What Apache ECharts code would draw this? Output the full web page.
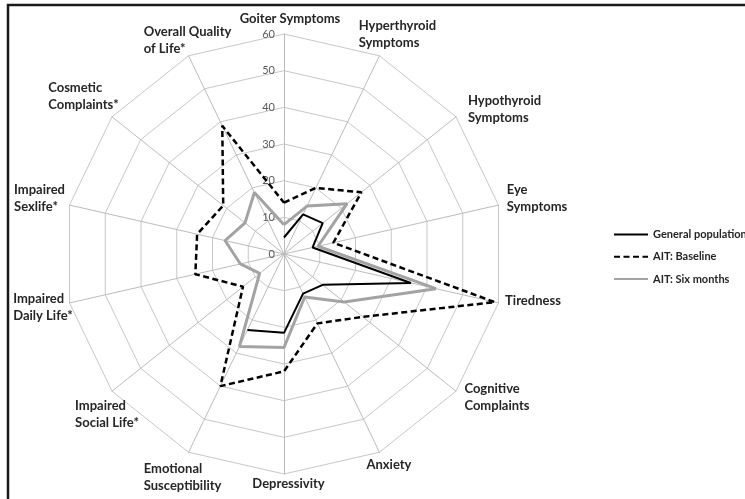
<!DOCTYPE html>
<html>
<head>
<meta charset="utf-8">
<script src="https://cdn.jsdelivr.net/npm/echarts@6/dist/echarts.min.js"></script>
<style>
html,body{margin:0;padding:0;background:#fff;}
#chart{width:745px;height:499px;}
</style>
</head>
<body>
<div id="chart"></div>
<script>
// ---- data ----
const categories = [
  'Goiter Symptoms', 'Hyperthyroid\nSymptoms', 'Hypothyroid\nSymptoms', 'Eye\nSymptoms',
  'Tiredness', 'Cognitive\nComplaints', 'Anxiety', 'Depressivity',
  'Emotional\nSusceptibility', 'Impaired\nSocial Life*', 'Impaired\nDaily Life*',
  'Impaired\nSexlife*', 'Cosmetic\nComplaints*', 'Overall Quality\nof Life*'
];
const seriesNames = ['General population', 'AIT: Baseline', 'AIT: Six months'];
const generalPopulation = [4.5, 12, 13.5, 8, 35.5, 13.5, 12, 21.5, 23, null, null, null, null, null];
const aitBaseline = [14, 20, 27, 13.8, 59, 27.5, 21, 32, 40, 14.3, 24.8, 24.3, 21.2, 38.8];
const aitSixMonths = [8, 14.5, 22, 9.5, 42.5, 21, 13, 25.5, 28, 8.5, 12.2, 16.5, 13.6, 18.6];
const axisMax = 60;
const axisStep = 10;

// ---- layout (label offsets from axis end: [dx, dy]) ----
const labelShift = [
  [6, -15], [18, -21], [48.5, -8], [38.5, -7], [34.5, -2.5], [41, 6.5], [9.5, 13],
  [4.5, 10], [-6, 25.5], [-5, 23], [-26.5, 4.5], [-30, -6.7], [-28.5, -21], [-1, -15]
];

const CX = 284, CY = 254, R = 220;
const N = categories.length;
const FONT = 'Lato';

const rich = {};
labelShift.forEach(function (s, i) {
  const l = Math.max(0, 2 * s[0]), r = Math.max(0, -2 * s[0]);
  rich['t' + i] = {fontFamily: FONT, fontWeight: 'bold', fontSize: 13, color: '#262626',
    align: 'left', lineHeight: 17, padding: [0, r, 0, l]};
  rich['p' + i] = {fontSize: 1, lineHeight: Math.max(1, Math.abs(2 * s[1])), align: 'left'};
});

// radar indicators run counter-clockwise: feed them reversed (after the first) so they read clockwise
const radarOrder = [0].concat(categories.map(function (c, i) { return i; }).slice(1).reverse());

function toPolar(values, close) {
  const pts = [];
  values.forEach(function (v, i) { if (v !== null) pts.push([v, i]); });
  if (close) pts.push([values[0], N]);
  return pts;
}

const chart = echarts.init(document.getElementById('chart'), null, {renderer: 'canvas'});
chart.setOption({
  animation: false,
  backgroundColor: '#ffffff',
  graphic: [{
    type: 'rect', silent: true, z: 100,
    shape: {x: 8, y: 5, width: 900, height: 700},
    style: {fill: 'none', stroke: '#1a1a1a', lineWidth: 2.5}
  }],
  radar: {
    center: [CX, CY],
    radius: R,
    startAngle: 90,
    shape: 'polygon',
    splitNumber: axisMax / axisStep,
    axisNameGap: 0,
    indicator: radarOrder.map(function (i) { return {name: categories[i], min: 0, max: axisMax}; }),
    axisName: {
      align: 'center', verticalAlign: 'middle',
      fontFamily: FONT, fontWeight: 'bold', fontSize: 13, color: '#262626',
      formatter: function (name) {
        const i = categories.indexOf(name);
        const lines = name.split('\n').map(function (ln) { return '{t' + i + '|' + ln + '}'; });
        const dy = labelShift[i][1];
        if (dy > 0) lines.unshift('{p' + i + '| }');
        else if (dy < 0) lines.push('{p' + i + '| }');
        return lines.join('\n');
      },
      rich: rich
    },
    splitLine: {lineStyle: {color: '#c8c8c8', width: 1}},
    splitArea: {show: false},
    axisLine: {lineStyle: {color: '#bcbcbc', width: 1}},
    axisTick: {show: false},
    axisLabel: {show: false}
  },
  polar: {center: [CX, CY], radius: R},
  angleAxis: {type: 'value', min: 0, max: N, startAngle: 90, clockwise: true, show: false},
  radiusAxis: {
    type: 'value', min: 0, max: axisMax, interval: axisStep,
    axisLine: {show: false}, axisTick: {show: false}, splitLine: {show: false},
    axisLabel: {show: true, margin: 9, color: '#5a5a5a', fontFamily: FONT, fontSize: 11}
  },
  legend: {
    orient: 'vertical', left: 613, top: 229, padding: 0,
    itemWidth: 34, itemHeight: 14, itemGap: 11,
    data: seriesNames,
    itemStyle: {opacity: 0},
    textStyle: {fontFamily: FONT, fontWeight: 'bold', fontSize: 11, color: '#262626'}
  },
  series: [
    {
      name: seriesNames[0], type: 'line', coordinateSystem: 'polar',
      data: toPolar(generalPopulation, false), symbol: 'none', z: 5,
      lineStyle: {color: '#000000', width: 2}, itemStyle: {color: '#000000'}
    },
    {
      name: seriesNames[1], type: 'line', coordinateSystem: 'polar',
      data: toPolar(aitBaseline, true), symbol: 'none', z: 4,
      lineStyle: {color: '#000000', width: 2.5, type: [6, 3.5]}, itemStyle: {color: '#000000'}
    },
    {
      name: seriesNames[2], type: 'line', coordinateSystem: 'polar',
      data: toPolar(aitSixMonths, true), symbol: 'none', z: 3,
      lineStyle: {color: '#a3a3a3', width: 3}, itemStyle: {color: '#a3a3a3'}
    }
  ]
});
</script>
</body>
</html>
